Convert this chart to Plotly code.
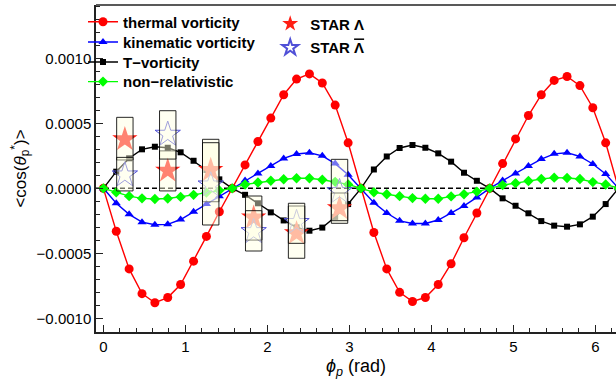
import plotly.graph_objects as go

# ---------------- data ----------------
phi = [0.000, 0.157, 0.314, 0.471, 0.628, 0.785, 0.942, 1.100, 1.257, 1.414,
       1.571, 1.728, 1.885, 2.042, 2.199, 2.356, 2.513, 2.670, 2.827, 2.985,
       3.142, 3.299, 3.456, 3.613, 3.770, 3.927, 4.084, 4.241, 4.398, 4.555,
       4.712, 4.869, 5.027, 5.184, 5.341, 5.498, 5.655, 5.812, 5.969, 6.126,
       6.283]

thermal = [0, -0.00033, -0.00062, -0.00081, -0.00088, -0.00084, -0.00074, -0.00056, -0.00037, -0.00018,
           0, 0.00018, 0.00036, 0.00054, 0.00072, 0.00084, 0.00088, 0.00081, 0.00064, 0.00035,
           0, -0.00034, -0.00062, -0.00080, -0.00087, -0.00084, -0.00074, -0.00058, -0.00038, -0.00019,
           0, 0.00019, 0.00038, 0.00056, 0.00072, 0.00083, 0.00086, 0.00079, 0.00062, 0.00035,
           0]

kinematic = [0, -0.000115, -0.000200, -0.000260, -0.000280, -0.000277, -0.000240, -0.000180, -0.000120, -0.000060,
             0, 0.000060, 0.000115, 0.000172, 0.000230, 0.000264, 0.000274, 0.000250, 0.000190, 0.000105,
             0, -0.000110, -0.000190, -0.000250, -0.000270, -0.000270, -0.000244, -0.000190, -0.000135, -0.000070,
             0, 0.000060, 0.000115, 0.000172, 0.000225, 0.000265, 0.000274, 0.000245, 0.000187, 0.000110,
             0]

t_vort = [0, 0.000128, 0.000231, 0.000300, 0.000320, 0.000312, 0.000277, 0.000212, 0.000141, 0.000069,
          0, -0.000050, -0.000115, -0.000185, -0.000247, -0.000300, -0.000326, -0.000302, -0.000220, -0.000121,
          0, 0.000145, 0.000245, 0.000310, 0.000333, 0.000312, 0.000269, 0.000205, 0.000120, 0.000058,
          0, -0.000077, -0.000134, -0.000192, -0.000252, -0.000287, -0.000295, -0.000277, -0.000218, -0.000121,
          0]

nonrel = [0, -0.000030, -0.000060, -0.000077, -0.000082, -0.000078, -0.000066, -0.000050, -0.000033, -0.000016,
          0, 0.000030, 0.000045, 0.000058, 0.000070, 0.000077, 0.000077, 0.000066, 0.000050, 0.000030,
          0, -0.000030, -0.000046, -0.000060, -0.000075, -0.000080, -0.000080, -0.000062, -0.000046, -0.000025,
          0, 0.000025, 0.000040, 0.000056, 0.000072, 0.000082, 0.000080, 0.000072, 0.000048, 0.000030,
          0]

phi_star = [0.262, 0.785, 1.309, 1.833, 2.356, 2.880]
star_lam = [0.000377, 0.000135, 0.000140, -0.000226, -0.000346, -0.000154]
star_lam_lo = [0.000218, -0.000020, -0.000103, -0.000398, -0.000538, -0.000269]
star_lam_hi = [0.000546, 0.000288, 0.000377, -0.000059, -0.000136, -0.000036]
star_alam = [0.000102, 0.000415, 0.000025, -0.000334, -0.000264, -0.000026]
star_alam_lo = [-0.000020, 0.000225, -0.000282, -0.000482, -0.000423, -0.000249]
star_alam_hi = [0.000238, 0.000597, 0.000351, -0.000172, -0.000115, 0.000223]

x_ticks = [0, 1, 2, 3, 4, 5, 6]
y_ticks = [-0.0010, -0.0005, 0.0, 0.0005, 0.0010]

# ---------------- figure ----------------
FONT = "Liberation Sans, Arial, sans-serif"
fig = go.Figure()

# zero reference line
fig.add_shape(type="line", xref="paper", x0=0, x1=1, yref="y", y0=0, y1=0,
              line=dict(color="black", width=1.5, dash="5px,3px"), layer="below")

curves = [
    ("thermal vorticity", thermal, "rgb(255,0,0)", "circle", 9, "legend"),
    ("kinematic vorticity", kinematic, "rgb(0,0,255)", "triangle-up", 8, "legend2"),
    ("T\u2212vorticity", t_vort, "black", "square", 6, "legend3"),
    ("non\u2212relativistic", nonrel, "rgb(0,255,0)", "diamond", 8, "legend4"),
]
for name, vals, col, sym, sz, lg in curves:
    fig.add_trace(go.Scatter(
        x=phi, y=vals, mode="lines+markers", name="<b>" + name + "</b>",
        line=dict(color=col, width=1.4),
        marker=dict(symbol=sym, size=sz, color=col, line=dict(width=0)),
        legend=lg))

fig.add_trace(go.Scatter(
    x=phi_star, y=star_lam, mode="markers", name="<b>STAR \u039b</b>",
    marker=dict(symbol="star", size=19, color="rgb(255,30,20)", line=dict(width=0)),
    legend="legend5"))
fig.add_trace(go.Scatter(
    x=phi_star, y=star_alam, mode="markers",
    name="<b>STAR <span style=\"text-decoration:overline\">\u039b</span></b>",
    marker=dict(symbol="star-open", size=19, color="rgb(80,80,215)", line=dict(width=1)),
    legend="legend6"))

# systematic boxes (translucent, drawn over the marks)
half_w = 0.1
for i in range(len(phi_star)):
    for lo, hi in ((star_lam_lo[i], star_lam_hi[i]), (star_alam_lo[i], star_alam_hi[i])):
        fig.add_shape(type="rect", xref="x", yref="y",
                      x0=phi_star[i] - half_w, x1=phi_star[i] + half_w, y0=lo, y1=hi,
                      line=dict(color="rgba(0,0,0,0.85)", width=1),
                      fillcolor="rgba(255,255,225,0.45)", layer="above")

# top frame line
fig.add_shape(type="line", xref="paper", yref="paper", x0=0, x1=1, y0=1, y1=1,
              line=dict(color="#222", width=1.5), layer="above")

def leg(x, y, sizing="trace"):
    return dict(x=x, y=y, xanchor="left", yanchor="middle", bgcolor="rgba(0,0,0,0)",
                borderwidth=0, font=dict(size=15, family=FONT, color="black"),
                itemwidth=30, tracegroupgap=0, itemsizing=sizing)

fig.update_layout(
    width=616, height=386,
    margin=dict(l=96, r=0, t=5, b=54),
    paper_bgcolor="white", plot_bgcolor="white",
    font=dict(family=FONT, color="black"),
    showlegend=True,
    legend=leg(-0.025, 0.948),
    legend2=leg(-0.025, 0.886),
    legend3=leg(-0.025, 0.825),
    legend4=leg(-0.025, 0.765),
    legend5=leg(0.335, 0.942, "constant"),
    legend6=leg(0.335, 0.869, "constant"),
)

fig.update_xaxes(
    range=[-0.09, 6.252], tickvals=x_ticks, ticktext=[str(v) for v in x_ticks],
    ticks="inside", ticklen=7, tickwidth=1, tickcolor="#222",
    minor=dict(dtick=0.2, ticks="inside", ticklen=4, tickcolor="#222", tickwidth=1),
    showline=True, linecolor="#222", linewidth=1.5, showgrid=False, zeroline=False,
    tickfont=dict(size=15, family=FONT, color="black"),
    title=dict(text="<i>\u03d5</i><sub><i>p</i></sub> (rad)", font=dict(size=18, family=FONT, color="black"),
               standoff=6),
)
fig.update_yaxes(
    range=[-0.001105, 0.00141], tickvals=y_ticks, tickformat=".4f",
    ticks="inside", ticklen=7, tickwidth=1, tickcolor="#222",
    minor=dict(dtick=0.0001, ticks="inside", ticklen=4, tickcolor="#222", tickwidth=1),
    showline=True, linecolor="#222", linewidth=1.5, showgrid=False, zeroline=False,
    tickfont=dict(size=15, family=FONT, color="black"),
    title=dict(text="&lt;cos(<i>\u03b8</i><sub>p</sub><sup>*</sup>)&gt;",
               font=dict(size=17, family=FONT, color="black"), standoff=6),
)

fig.write_html("out.html")
